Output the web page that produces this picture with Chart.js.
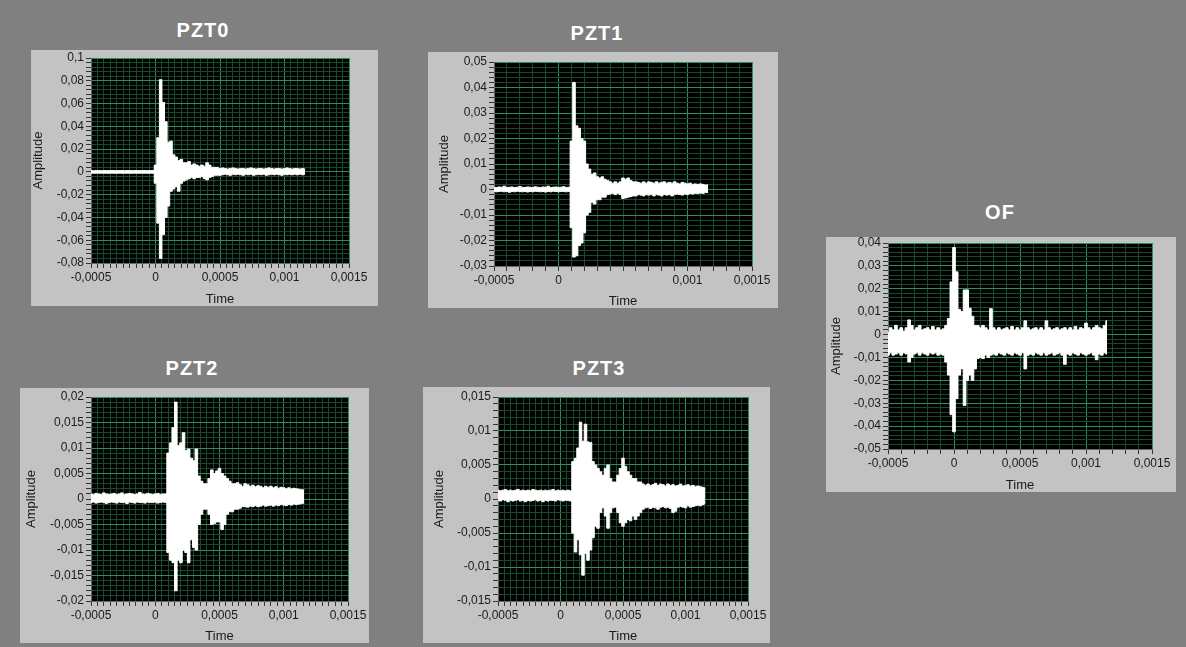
<!DOCTYPE html>
<html>
<head>
<meta charset="utf-8">
<script src="https://cdn.jsdelivr.net/npm/chart.js@4.4.0/dist/chart.umd.min.js"></script>
<style>
    body { margin: 0; width: 1186px; height: 647px; overflow: hidden; position: relative;
           background: #808080; font-family: "Liberation Sans", Arial, sans-serif; }
    canvas { position: absolute; background: #c3c3c3; }
    .title { position: absolute; color: #fff; font-weight: bold; font-size: 20px; letter-spacing: 1px;
             transform: translate(-50%, -50%); white-space: nowrap; }
</style>
</head>
<body>
<script>
// min/max envelope of each waveform, one bin every 20 us, first bin at t = -0.0005 s
const T_START = -0.0005;
const T_STEP = 0.00002;

const pzt0Max = [
    0.0012, 0.0011, 0.0012, 0.0012, 0.0011, 0.0012, 0.0012, 0.0011, 0.0012, 0.0012,
    0.0011, 0.0012, 0.0012, 0.0011, 0.0012, 0.0012, 0.0011, 0.0012, 0.0012, 0.0011,
    0.0012, 0.0012, 0.0011, 0.0012, 0.0012, 0.006, 0.03, 0.081, 0.061, 0.044,
    0.026, 0.027, 0.015, 0.013, 0.01, 0.011, 0.008, 0.008, 0.009, 0.006,
    0.007, 0.006, 0.005, 0.006, 0.005, 0.008, 0.006, 0.004, 0.004, 0.004,
    0.003, 0.0035, 0.003, 0.0025, 0.003, 0.0035, 0.003, 0.0025, 0.003, 0.003,
    0.0025, 0.003, 0.0035, 0.003, 0.0025, 0.003, 0.003, 0.0025, 0.003, 0.0035,
    0.003, 0.0025, 0.003, 0.003, 0.0025, 0.003, 0.0035, 0.003, 0.0025, 0.003,
    0.003, 0.0025, 0.003, 0.0025
];
const pzt0Min = [
    -0.0012, -0.0012, -0.0011, -0.0012, -0.0012, -0.0011, -0.0012, -0.0012, -0.0011, -0.0012,
    -0.0012, -0.0011, -0.0012, -0.0012, -0.0011, -0.0012, -0.0012, -0.0011, -0.0012, -0.0012,
    -0.0011, -0.0012, -0.0012, -0.0011, -0.0012, -0.01, -0.045, -0.076, -0.055, -0.04,
    -0.03, -0.017, -0.015, -0.013, -0.017, -0.01, -0.008, -0.007, -0.006, -0.005,
    -0.006, -0.005, -0.005, -0.004, -0.006, -0.007, -0.005, -0.004, -0.003, -0.003,
    -0.003, -0.0025, -0.002, -0.0025, -0.003, -0.002, -0.0025, -0.002, -0.0025, -0.003,
    -0.002, -0.0025, -0.002, -0.003, -0.0025, -0.002, -0.0025, -0.002, -0.003, -0.0025,
    -0.002, -0.0025, -0.002, -0.0025, -0.003, -0.002, -0.0025, -0.002, -0.0025, -0.002,
    -0.0025, -0.002, -0.0025, -0.002
];

const pzt1Max = [
    0.0009, 0.0008, 0.0010, 0.0009, 0.0013, 0.0008, 0.0009, 0.0010, 0.0008, 0.0009,
    0.0012, 0.0009, 0.0008, 0.0010, 0.0009, 0.0008, 0.0011, 0.0009, 0.0008, 0.0010,
    0.0009, 0.0013, 0.0008, 0.0009, 0.0010, 0.0008, 0.0009, 0.0011, 0.0008, 0.0009,
    0.019, 0.042, 0.025, 0.024, 0.02, 0.019, 0.01, 0.008, 0.006, 0.0065,
    0.005, 0.0045, 0.005, 0.004, 0.0035, 0.003, 0.0025, 0.003, 0.0025, 0.003,
    0.0045, 0.004, 0.0045, 0.0035, 0.003, 0.003, 0.0028, 0.0025, 0.003, 0.0025,
    0.003, 0.0028, 0.0025, 0.003, 0.0025, 0.0028, 0.003, 0.0025, 0.0028, 0.0025,
    0.003, 0.0025, 0.0022, 0.0028, 0.0025, 0.0022, 0.0025, 0.002, 0.0022, 0.002,
    0.0022, 0.002, 0.0018, 0.0018
];
const pzt1Min = [
    -0.0008, -0.0009, -0.0008, -0.0007, -0.0009, -0.0008, -0.0011, -0.0008, -0.0009, -0.0007,
    -0.0008, -0.0009, -0.0008, -0.0010, -0.0008, -0.0009, -0.0007, -0.0008, -0.0009, -0.0008,
    -0.0010, -0.0008, -0.0009, -0.0007, -0.0008, -0.0009, -0.0008, -0.0008, -0.0009, -0.0008,
    -0.015, -0.0265, -0.026, -0.022, -0.021, -0.017, -0.01, -0.009, -0.005, -0.0057,
    -0.004, -0.004, -0.003, -0.003, -0.002, -0.0018, -0.0015, -0.002, -0.0015, -0.002,
    -0.0035, -0.0033, -0.003, -0.0028, -0.0025, -0.0025, -0.002, -0.0022, -0.0025, -0.002,
    -0.0022, -0.002, -0.0025, -0.002, -0.0022, -0.0025, -0.002, -0.0022, -0.002, -0.0025,
    -0.002, -0.0018, -0.002, -0.0022, -0.0018, -0.002, -0.0016, -0.0018, -0.0015, -0.0016,
    -0.0014, -0.0015, -0.0012, -0.0012
];

const pzt2Max = [
    0.0010, 0.0009, 0.0011, 0.0010, 0.0009, 0.0012, 0.0010, 0.0009, 0.0010, 0.0011,
    0.0009, 0.0010, 0.0012, 0.0009, 0.0010, 0.0011, 0.0010, 0.0009, 0.0010, 0.0013,
    0.0010, 0.0009, 0.0011, 0.0010, 0.0009, 0.0010, 0.0011, 0.0009, 0.0010, 0.0010,
    0.009, 0.011, 0.014, 0.019, 0.0105, 0.011, 0.013, 0.0095, 0.0098, 0.008,
    0.0075, 0.0098, 0.0045, 0.0035, 0.003, 0.003, 0.004, 0.0057, 0.005, 0.0055,
    0.006, 0.005, 0.0045, 0.004, 0.0035, 0.003, 0.003, 0.0032, 0.0028, 0.0025,
    0.003, 0.0028, 0.0025, 0.0027, 0.0024, 0.0026, 0.0025, 0.0022, 0.0025, 0.0023,
    0.0025, 0.0022, 0.0024, 0.0021, 0.0023, 0.0022, 0.002, 0.0022, 0.002, 0.0021,
    0.002, 0.0019, 0.0018, 0.0018
];
const pzt2Min = [
    -0.0007, -0.0006, -0.0008, -0.0007, -0.0006, -0.0007, -0.0009, -0.0007, -0.0006, -0.0007,
    -0.0008, -0.0006, -0.0007, -0.0007, -0.0009, -0.0006, -0.0007, -0.0008, -0.0006, -0.0007,
    -0.0007, -0.0008, -0.0006, -0.0007, -0.0007, -0.0006, -0.0008, -0.0007, -0.0006, -0.0007,
    -0.0105, -0.012, -0.0125, -0.018, -0.012, -0.0125, -0.01, -0.0105, -0.0125, -0.008,
    -0.0095, -0.01, -0.005, -0.003, -0.002, -0.002, -0.003, -0.005, -0.0048, -0.0045,
    -0.0045, -0.006, -0.005, -0.003, -0.0025, -0.0025, -0.002, -0.002, -0.0018, -0.0015,
    -0.0015, -0.0016, -0.0014, -0.0015, -0.0013, -0.0015, -0.0014, -0.0012, -0.0014, -0.0013,
    -0.0012, -0.0014, -0.0012, -0.0013, -0.0011, -0.0012, -0.0013, -0.0011, -0.0012, -0.001,
    -0.0011, -0.001, -0.0009, -0.0008
];

const pzt3Max = [
    0.0013, 0.0012, 0.0013, 0.0014, 0.0012, 0.0013, 0.0012, 0.0013, 0.0014, 0.0012,
    0.0013, 0.0012, 0.0013, 0.0012, 0.0014, 0.0013, 0.0012, 0.0013, 0.0012, 0.0013,
    0.0012, 0.0013, 0.0014, 0.0012, 0.0013, 0.0012, 0.0013, 0.0012, 0.0013, 0.0012,
    0.0055, 0.006, 0.0075, 0.0113, 0.0085, 0.011, 0.0084, 0.0083, 0.0055, 0.005,
    0.0045, 0.004, 0.0035, 0.0045, 0.005, 0.003, 0.0025, 0.0025, 0.0035, 0.0045,
    0.006, 0.0048, 0.004, 0.0035, 0.003, 0.003, 0.0025, 0.0025, 0.0022, 0.002,
    0.0022, 0.002, 0.0021, 0.0023, 0.002, 0.0022, 0.0021, 0.0019, 0.0022, 0.002,
    0.0021, 0.0019, 0.002, 0.0022, 0.0019, 0.002, 0.0021, 0.0019, 0.002, 0.0018,
    0.0019, 0.0018, 0.0017, 0.0016
];
const pzt3Min = [
    -0.0002, -0.0003, -0.0001, -0.0002, -0.0004, -0.0002, -0.0003, -0.0002, -0.0001, -0.0003,
    -0.0002, -0.0004, -0.0002, -0.0003, -0.0002, -0.0001, -0.0003, -0.0002, -0.0004, -0.0002,
    -0.0003, -0.0002, -0.0002, -0.0003, -0.0001, -0.0002, -0.0003, -0.0002, -0.0002, -0.0003,
    -0.005, -0.0078, -0.006, -0.0082, -0.0112, -0.008, -0.009, -0.0075, -0.0057, -0.004,
    -0.0043, -0.002, -0.0013, -0.0025, -0.0043, -0.002, -0.0013, -0.0012, -0.002, -0.0035,
    -0.004, -0.0035, -0.003, -0.0032, -0.0025, -0.003, -0.0025, -0.002, -0.0015, -0.0013,
    -0.0012, -0.0014, -0.0012, -0.0013, -0.0015, -0.0012, -0.0011, -0.0013, -0.0012, -0.0014,
    -0.002, -0.0018, -0.0012, -0.0011, -0.0012, -0.0013, -0.001, -0.0012, -0.0011, -0.001,
    -0.0009, -0.001, -0.0008, -0.0006
];

const ofMax = [
    0.001, 0.003, 0.002, 0.004, 0.002, 0.003, 0.0015, 0.003, 0.0064, 0.004,
    0.002, 0.003, 0.004, 0.002, 0.0025, 0.003, 0.002, 0.0035, 0.002, 0.003,
    0.002, 0.0025, 0.004, 0.007, 0.023, 0.038, 0.0274, 0.011, 0.01, 0.0195,
    0.0195, 0.0115, 0.008, 0.004, 0.004, 0.003, 0.004, 0.003, 0.002, 0.0113,
    0.003, 0.002, 0.003, 0.002, 0.0025, 0.003, 0.002, 0.0035, 0.002, 0.003,
    0.002, 0.003, 0.006, 0.003, 0.002, 0.0025, 0.003, 0.002, 0.003, 0.002,
    0.006, 0.003, 0.002, 0.0025, 0.003, 0.002, 0.0025, 0.003, 0.002, 0.003,
    0.002, 0.0035, 0.002, 0.003, 0.0025, 0.005, 0.003, 0.002, 0.003, 0.004,
    0.003, 0.0025, 0.004, 0.006
];
const ofMin = [
    -0.009, -0.008, -0.009, -0.0085, -0.008, -0.009, -0.008, -0.0085, -0.012, -0.01,
    -0.0085, -0.008, -0.009, -0.008, -0.0085, -0.009, -0.008, -0.0085, -0.008, -0.009,
    -0.0085, -0.009, -0.012, -0.0177, -0.035, -0.0425, -0.028, -0.0177, -0.015, -0.031,
    -0.02, -0.0177, -0.02, -0.015, -0.0105, -0.01, -0.0105, -0.009, -0.01, -0.009,
    -0.0085, -0.009, -0.008, -0.0085, -0.009, -0.008, -0.0085, -0.009, -0.008, -0.0085,
    -0.009, -0.008, -0.015, -0.009, -0.0085, -0.009, -0.008, -0.0085, -0.009, -0.008,
    -0.009, -0.0085, -0.008, -0.009, -0.0085, -0.008, -0.009, -0.013, -0.0085, -0.009,
    -0.008, -0.0085, -0.009, -0.008, -0.0085, -0.009, -0.0085, -0.008, -0.009, -0.011,
    -0.0085, -0.009, -0.008, -0.0085
];

// labelled ticks
const xTicksFull = [-0.0005, 0, 0.0005, 0.001, 0.0015];
const xTicksPzt1 = [-0.0005, 0, 0.001, 0.0015];
const yTicksPzt0 = [-0.08, -0.06, -0.04, -0.02, 0, 0.02, 0.04, 0.06, 0.08, 0.1];
const yTicksPzt1 = [-0.03, -0.02, -0.01, 0, 0.01, 0.02, 0.03, 0.04, 0.05];
const yTicksPzt2 = [-0.02, -0.015, -0.01, -0.005, 0, 0.005, 0.01, 0.015, 0.02];
const yTicksPzt3 = [-0.015, -0.01, -0.005, 0, 0.005, 0.01, 0.015];
const yTicksOf = [-0.05, -0.04, -0.03, -0.02, -0.01, 0, 0.01, 0.02, 0.03, 0.04];

const MAJOR = '#2b9058';
const MINOR = '#174a2c';

const panels = [
    { title: 'PZT0', hi: pzt0Max, lo: pzt0Min, xTicks: xTicksFull, xMinor: 0.00005, yTicks: yTicksPzt0, yMinor: 0.004,
      box: [31, 50, 347, 256], titleAt: [203, 30], yW: 60, xH: 43, padT: 8, padR: 29, yTitlePad: 1 },
    { title: 'PZT1', hi: pzt1Max, lo: pzt1Min, xTicks: xTicksPzt1, xMinor: 0.0001, yTicks: yTicksPzt1, yMinor: 0.002,
      box: [428, 52, 350, 256], titleAt: [597, 33], yW: 66, xH: 42, padT: 10, padR: 26, yTitlePad: 10 },
    { title: 'PZT2', hi: pzt2Max, lo: pzt2Min, xTicks: xTicksFull, xMinor: 0.00005, yTicks: yTicksPzt2, yMinor: 0.001,
      box: [20, 388, 349, 255], titleAt: [192, 368], yW: 71, xH: 42, padT: 9, padR: 21, yTitlePad: 5 },
    { title: 'PZT3', hi: pzt3Max, lo: pzt3Min, xTicks: xTicksFull, xMinor: 0.00005, yTicks: yTicksPzt3, yMinor: 0.001,
      box: [423, 387, 347, 256], titleAt: [599, 368], yW: 75, xH: 42, padT: 10, padR: 22, yTitlePad: 10 },
    { title: 'OF', hi: ofMax, lo: ofMin, xTicks: xTicksFull, xMinor: 0.0001, yTicks: yTicksOf, yMinor: 0.002,
      box: [826, 237, 350, 255], titleAt: [1000, 212], yW: 62, xH: 43, padT: 6, padR: 24, yTitlePad: 4 }
];

function tickRange(majors, step) {
    var min = majors[0], max = majors[majors.length - 1];
    var n = Math.round((max - min) / step);
    var out = [];
    for (var k = 0; k <= n; k++) out.push(+(min + k * step).toFixed(7));
    return out;
}

function isMajor(majors, v) {
    return majors.some(m => Math.abs(m - v) < 1e-9);
}

function fmt(v) {
    return String(+v.toFixed(6)).replace('.', ',');
}

function toPoints(values) {
    return values.map((v, i) => ({ x: T_START + i * T_STEP, y: v }));
}

const plotBg = {
    id: 'plotBg',
    beforeDraw(chart) {
        const a = chart.chartArea;
        chart.ctx.save();
        chart.ctx.fillStyle = '#000';
        chart.ctx.fillRect(a.left, a.top, a.right - a.left, a.bottom - a.top);
        chart.ctx.restore();
    }
};

const tickFont = { family: '"Liberation Sans", Arial, sans-serif', size: 12 };
const titleFont = { family: '"Liberation Sans", Arial, sans-serif', size: 13, lineHeight: 1 };

panels.forEach(p => {
    var t = document.createElement('div');
    t.className = 'title';
    t.textContent = p.title;
    t.style.left = p.titleAt[0] + 'px';
    t.style.top = p.titleAt[1] + 'px';
    document.body.appendChild(t);

    var c = document.createElement('canvas');
    c.width = p.box[2];
    c.height = p.box[3];
    c.style.left = p.box[0] + 'px';
    c.style.top = p.box[1] + 'px';
    document.body.appendChild(c);

    var xAll = tickRange(p.xTicks, p.xMinor);
    var yAll = tickRange(p.yTicks, p.yMinor);

    new Chart(c, {
        type: 'line',
        data: {
            datasets: [
                {
                    data: toPoints(p.hi),
                    borderColor: '#fff',
                    backgroundColor: '#fff',
                    borderWidth: 1,
                    pointRadius: 0,
                    stepped: 'middle',
                    fill: '+1'
                },
                {
                    data: toPoints(p.lo),
                    borderColor: '#fff',
                    borderWidth: 1,
                    pointRadius: 0,
                    stepped: 'middle',
                    fill: false
                }
            ]
        },
        options: {
            responsive: false,
            animation: false,
            events: [],
            layout: { padding: { left: 0, top: p.padT, right: p.padR, bottom: 0 } },
            plugins: { legend: { display: false }, tooltip: { enabled: false } },
            scales: {
                x: {
                    type: 'linear',
                    min: p.xTicks[0],
                    max: p.xTicks[p.xTicks.length - 1],
                    afterBuildTicks: s => { s.ticks = xAll.map(v => ({ value: v })); },
                    afterFit: s => { s.height = p.xH; s.paddingLeft = 0; s.paddingRight = 0; },
                    ticks: {
                        autoSkip: false, maxRotation: 0, minRotation: 0, padding: 2,
                        color: '#1a1a1a', font: tickFont,
                        callback: v => isMajor(p.xTicks, v) ? fmt(v) : ''
                    },
                    grid: {
                        color: ctx => isMajor(p.xTicks, ctx.tick.value) ? MAJOR : MINOR,
                        tickColor: '#333', tickLength: 5, lineWidth: 1
                    },
                    border: { color: '#666' },
                    title: { display: true, text: 'Time', color: '#1a1a1a', font: titleFont, padding: 0 }
                },
                y: {
                    type: 'linear',
                    min: p.yTicks[0],
                    max: p.yTicks[p.yTicks.length - 1],
                    afterBuildTicks: s => { s.ticks = yAll.map(v => ({ value: v })); },
                    afterFit: s => { s.width = p.yW; s.paddingTop = 0; s.paddingBottom = 0; },
                    ticks: {
                        autoSkip: false, padding: 2, color: '#1a1a1a', font: tickFont,
                        callback: v => isMajor(p.yTicks, v) ? fmt(v) : ''
                    },
                    grid: {
                        color: ctx => isMajor(p.yTicks, ctx.tick.value) ? MAJOR : MINOR,
                        tickColor: '#333', tickLength: 5, lineWidth: 1
                    },
                    border: { color: '#666' },
                    title: { display: true, text: 'Amplitude', color: '#1a1a1a', font: titleFont,
                             padding: { top: p.yTitlePad, bottom: 0 } }
                }
            }
        },
        plugins: [plotBg]
    });
});
</script>
</body>
</html>
